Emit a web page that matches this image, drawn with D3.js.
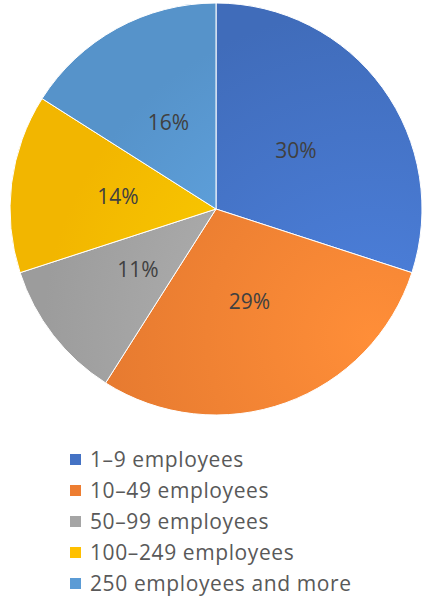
<!DOCTYPE html>
<html><head><meta charset="utf-8">
<script src="https://cdn.jsdelivr.net/npm/d3@7"></script>
<style>body{margin:0;background:#fff}</style>
</head><body>
<svg width="433" height="606"></svg>
<script>
var categories = ['1–9 employees','10–49 employees','50–99 employees','100–249 employees','250 employees and more'];
var shares = [30, 29, 11, 14, 16];
var colors = ['#4472C4','#ED7D31','#A5A5A5','#FFC000','#5B9BD5'];

var svg = d3.select('svg');
var cx = 216, cy = 209, r = 206;

// gradients, lighter toward top-left like the original
var defs = svg.append('defs');
colors.forEach(function(c, i){
  var g = defs.append('radialGradient').attr('id','g'+i)
    .attr('gradientUnits','userSpaceOnUse')
    .attr('cx', cx - 60).attr('cy', cy - 80).attr('r', r * 1.6);
  g.append('stop').attr('offset','0%').attr('stop-color', d3.color(c).brighter(0.35));
  g.append('stop').attr('offset','100%').attr('stop-color', d3.color(c).darker(0.15));
});

var pie = d3.pie().sort(null).value(function(d){ return d; });
var arc = d3.arc().innerRadius(0).outerRadius(r);
var labelArc = d3.arc().innerRadius(r*0.48).outerRadius(r*0.48);

var g = svg.append('g').attr('transform','translate(' + cx + ',' + cy + ')');
var arcs = pie(shares);
g.selectAll('path').data(arcs).enter().append('path')
  .attr('d', arc)
  .attr('fill', function(d, i){ return 'url(#g' + i + ')'; })
  .attr('stroke','#fff').attr('stroke-width',1);

g.selectAll('text').data(arcs).enter().append('text')
  .attr('transform', function(d){ return 'translate(' + labelArc.centroid(d) + ')'; })
  .attr('text-anchor','middle').attr('dy','0.35em')
  .attr('font-family','"Open Sans", sans-serif')
  .attr('font-size', 21).attr('fill','#404040')
  .text(function(d){ return d.data + '%'; });

// legend
var leg = svg.append('g');
var rows = leg.selectAll('g').data(categories).enter().append('g')
  .attr('transform', function(d, i){ return 'translate(70,' + (460 + i*31) + ')'; });
rows.append('rect').attr('x',0).attr('y',-6).attr('width',11).attr('height',11)
  .attr('fill', function(d, i){ return colors[i]; });
rows.append('text').attr('x',20).attr('dy','0.35em')
  .attr('font-family','"Open Sans", sans-serif').attr('font-size',21).attr('fill','#595959')
  .attr('letter-spacing', 0.6)
  .text(function(d){ return d; });
</script>
</body></html>
